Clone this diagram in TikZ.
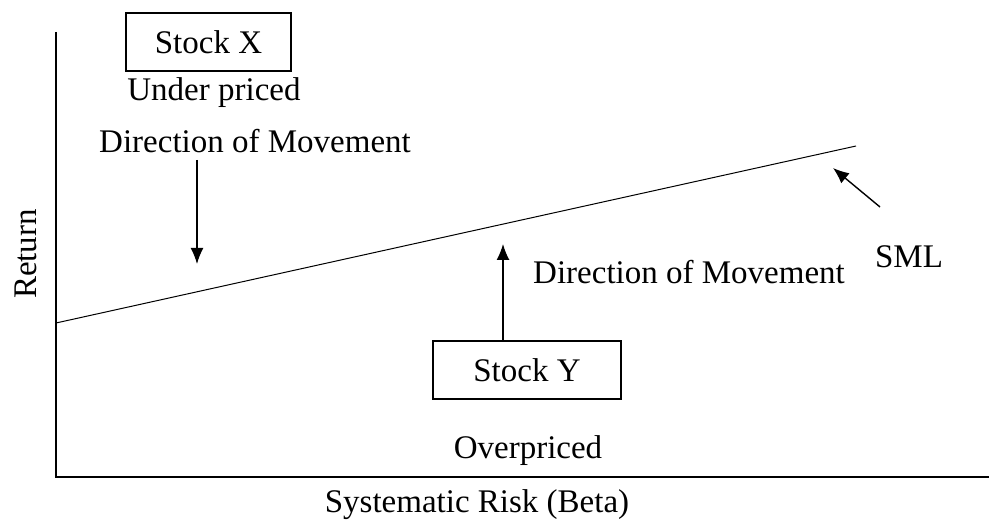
\documentclass[tikz,border=0pt]{standalone}
\usepackage{fontspec}
\setmainfont{Liberation Serif}
\usetikzlibrary{positioning}
\usetikzlibrary{arrows.meta}

\begin{document}
\begin{tikzpicture}[x=0.5pt,y=-0.5pt]
		\tikzstyle{every node}+=[font=\fontsize{16.5}{19}\selectfont]
		\tikzstyle{stockbox}=[draw,line width=0.8pt,minimum height=29pt,inner sep=0pt]
		\tikzstyle{move}=[line width=0.7pt,-{Latex[length=8pt,width=6.5pt]}]
		\useasboundingbox (0,0) rectangle (989,523);
		% axes
		\coordinate (o) at (56,477);
		\coordinate (ytop) at (56,32);
		\coordinate (xend) at (989,477);
		\draw [line width=1pt] (ytop) -- (o) -- (xend);
		\node (ret) at (26,254) [rotate=90] {Return};
		\node (beta) at (477,505) {Systematic Risk (Beta)};
		% security market line
		\coordinate (smlA) at (56,323);
		\coordinate (smlB) at (856,146);
		\draw [line width=0.5pt] (smlA) -- (smlB);
		\node (sml) at (909,257) {SML};
		\coordinate (smlfrom) at (880,207);
		\coordinate (smlto) at (833,168);
		\draw [move] (smlfrom) -- (smlto);
		% stock x
		\node [stockbox,minimum width=82.5pt] (sx) at (208.5,42) {Stock X};
		\node (under) at (214,93) {Under priced};
		\node (dirx) at (255,141) {Direction of Movement};
		\coordinate (xto) at (197,264);
		\draw [move] (dirx.south -| xto) -- (xto);
		% stock y
		\node [stockbox,minimum width=94pt] (sy) at (527,370) {Stock Y};
		\node (over) at (528,451) {Overpriced};
		\node (diry) at (689,272) {Direction of Movement};
		\coordinate (yto) at (503,244);
		\draw [move] (sy.north -| yto) -- (yto);
\end{tikzpicture}
\end{document}
